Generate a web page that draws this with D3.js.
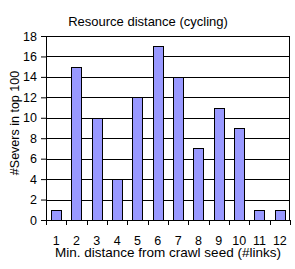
<!DOCTYPE html>
<html>
<head>
<meta charset="utf-8">
<script src="https://cdn.jsdelivr.net/npm/d3@7"></script>
<style>
  body { margin: 0; background: #fff; }
  text { font-family: "Liberation Sans", Arial, sans-serif; fill: #000; }
</style>
</head>
<body>
<script>
// chart data
var categories = ["1", "2", "3", "4", "5", "6", "7", "8", "9", "10", "11", "12"];
var servers = [1, 15, 10, 4, 12, 17, 14, 7, 11, 9, 1, 1];
var yTicks = [0, 2, 4, 6, 8, 10, 12, 14, 16, 18];

var width = 295, height = 269;
var margin = {top: 36, right: 5, bottom: 49, left: 46};
var innerWidth = width - margin.left - margin.right,
    innerHeight = height - margin.top - margin.bottom;

var svg = d3.select("body").append("svg")
    .attr("width", width)
    .attr("height", height);

var g = svg.append("g")
    .attr("transform", "translate(" + margin.left + "," + margin.top + ")");

var xScale = d3.scaleBand().domain(categories).range([0, innerWidth]).padding(0);
var yScale = d3.scaleLinear().domain([0, 18]).range([innerHeight, 0]);

// gridlines
g.selectAll(".grid")
  .data(yTicks.slice(1))
  .enter().append("line")
    .attr("class", "grid")
    .attr("x1", 0).attr("x2", innerWidth)
    .attr("y1", function(d) { return Math.round(yScale(d)) + 0.5; })
    .attr("y2", function(d) { return Math.round(yScale(d)) + 0.5; })
    .attr("stroke", "#000");

// right border
g.append("line")
  .attr("x1", innerWidth - 0.5).attr("x2", innerWidth - 0.5)
  .attr("y1", 0).attr("y2", innerHeight)
  .attr("stroke", "#000");

// bars
var barW = xScale.bandwidth() * 0.5;
g.selectAll(".bar")
  .data(servers)
  .enter().append("rect")
    .attr("class", "bar")
    .attr("x", function(d, i) { return Math.round(xScale(categories[i]) + (xScale.bandwidth() - barW) / 2) + 0.5; })
    .attr("y", function(d) { return Math.round(yScale(d)) + 0.5; })
    .attr("width", Math.round(barW))
    .attr("height", function(d) { return Math.round(innerHeight - yScale(d)); })
    .attr("fill", "#9999ff")
    .attr("stroke", "#000");

// y axis
var yAxisG = g.append("g")
  .call(d3.axisLeft(yScale).tickValues(yTicks).tickSize(5).tickPadding(4).tickSizeOuter(0));
yAxisG.selectAll("text").attr("font-size", "12.5px").attr("font-family", "Liberation Sans, Arial, sans-serif");
yAxisG.selectAll("line, path").attr("stroke", "#000");

// x axis: ticks between categories
var xAxisG = g.append("g")
  .attr("transform", "translate(0," + innerHeight + ")");
xAxisG.append("line")
  .attr("x1", 0).attr("x2", innerWidth)
  .attr("y1", 0.5).attr("y2", 0.5)
  .attr("stroke", "#000");
xAxisG.selectAll(".xtick")
  .data(categories.concat(["end"]))
  .enter().append("line")
    .attr("class", "xtick")
    .attr("x1", function(d, i) { return Math.round(i * xScale.step()) + 0.5; })
    .attr("x2", function(d, i) { return Math.round(i * xScale.step()) + 0.5; })
    .attr("y1", 0).attr("y2", 5)
    .attr("stroke", "#000");
xAxisG.selectAll(".xlabel")
  .data(categories)
  .enter().append("text")
    .attr("class", "xlabel")
    .attr("x", function(d) { return xScale(d) + xScale.bandwidth() / 2; })
    .attr("y", 25)
    .attr("text-anchor", "middle")
    .attr("font-size", "12.5px")
    .text(function(d) { return d; });

// titles
svg.append("text")
  .attr("x", 148).attr("y", 26)
  .attr("text-anchor", "middle")
  .attr("font-size", "13px")
  .text("Resource distance (cycling)");

svg.append("text")
  .attr("x", 168).attr("y", 257)
  .attr("text-anchor", "middle")
  .attr("font-size", "13.5px")
  .text("Min. distance from crawl seed (#links)");

svg.append("text")
  .attr("transform", "translate(19," + 123 + ") rotate(-90)")
  .attr("text-anchor", "middle")
  .attr("font-size", "12.5px")
  .text("#Severs in top 100");
</script>
</body>
</html>
